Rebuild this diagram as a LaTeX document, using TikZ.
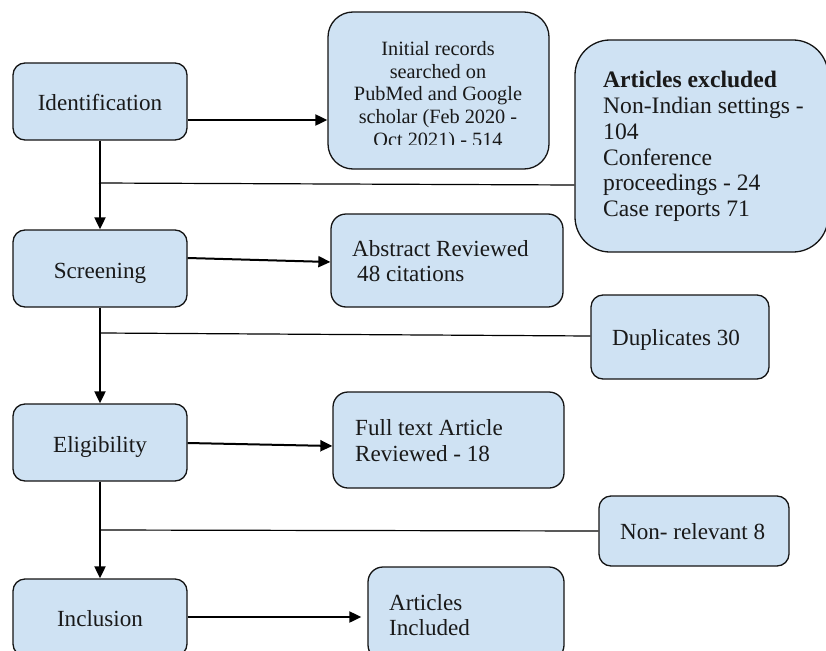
\documentclass[tikz,border=0pt]{standalone}
\usepackage{fontspec}
\setmainfont{Liberation Serif}
\usetikzlibrary{arrows.meta,calc}
\definecolor{boxfill}{RGB}{207,226,243}
\definecolor{boxline}{RGB}{20,20,20}
\begin{document}
\begin{tikzpicture}[x=1pt,y=-1pt,
  box/.style={draw=boxline, line width=1.3pt, fill=boxfill, rounded corners=12pt, inner sep=0pt},
  lbl/.style={inner sep=0pt, anchor=base, text=black!90, font=\fontsize{23.1}{25}\selectfont},
  lblw/.style={lbl, anchor=base west},
  small/.style={font=\fontsize{20.3}{22}\selectfont},
  exfont/.style={font=\fontsize{23.6}{25}\selectfont},
  arr/.style={line width=2pt, -{Triangle[length=12pt,width=11pt]}},
  branch/.style={line width=1.2pt}]
\useasboundingbox (0,0) rectangle (826,650);
\clip (0,0) rectangle (826,650);

% boxes
\node[box, minimum width=174pt, minimum height=77pt] (ident) at (100,101.5) {};
\node[box, minimum width=221pt, minimum height=157pt, rounded corners=25pt] (init) at (438.5,90.5) {};
\node[box, minimum width=253pt, minimum height=212pt, rounded corners=35pt] (excl) at (701.5,146) {};
\node[box, minimum width=174pt, minimum height=77pt] (screen) at (100,268.5) {};
\node[box, minimum width=232pt, minimum height=93pt, rounded corners=15pt] (abs) at (447,260.5) {};
\node[box, minimum width=178pt, minimum height=84pt] (dup) at (680,337) {};
\node[box, minimum width=174pt, minimum height=77pt] (elig) at (100,442.5) {};
\node[box, minimum width=231pt, minimum height=96pt, rounded corners=15pt] (full) at (448.5,440) {};
\node[box, minimum width=190pt, minimum height=70pt] (nonrel) at (694,531) {};
\node[box, minimum width=174pt, minimum height=77pt] (incl) at (100,617.5) {};
\node[box, minimum width=196pt, minimum height=93pt, rounded corners=15pt] (artinc) at (466,613.5) {};

% labels
\node[lbl] (tident) at (100,110.7) {Identification};
\node[lbl] (tscreen) at (100,278) {Screening};
\node[lbl] (telig) at (100,452.5) {Eligibility};
\node[lbl] (tincl) at (100,626.5) {Inclusion};

\begin{scope}
\clip (328,12) rectangle (549,144);
\node[lbl, small] (ti1) at (438,55.5) {Initial records};
\node[lbl, small] (ti2) at (438,78.2) {searched on};
\node[lbl, small] (ti3) at (438,100.9) {PubMed and Google};
\node[lbl, small] (ti4) at (438,123.6) {scholar (Feb 2020 -};
\node[lbl, small] (ti5) at (438,146.3) {Oct 2021) - 514};
\end{scope}

\node[lblw, font=\fontsize{23.6}{25}\selectfont\bfseries] (te1) at (603,88) {Articles excluded};
\node[lblw, exfont] (te2) at (603,113.7) {Non-Indian settings -};
\node[lblw, exfont] (te3) at (603,139.4) {104};
\node[lblw, exfont] (te4) at (603,165.1) {Conference};
\node[lblw, exfont] (te5) at (603,190.8) {proceedings - 24};
\node[lblw, exfont] (te6) at (603,216.5) {Case reports 71};

\node[lblw] (ta1) at (352,256.7) {Abstract Reviewed};
\node[lblw] (ta2) at (357,281.7) {48 citations};

\node[lblw] (td) at (612,345.7) {Duplicates 30};

\node[lblw] (tf1) at (355,435) {Full text Article};
\node[lblw] (tf2) at (355,461) {Reviewed - 18};

\node[lblw] (tn) at (620,539.3) {Non- relevant 8};

\node[lblw] (tai1) at (389,610) {Articles};
\node[lblw] (tai2) at (389,635) {Included};

% branch points
\coordinate (b1) at (99,183);
\coordinate (b2) at (101,333);
\coordinate (b3) at (100,530);

% connectors
\draw[arr] (ident.east |- 0,120) -- (init.west |- 0,120);
\draw[arr] (screen.east |- 0,258) -- (abs.west |- 0,262);
\draw[arr] (elig.east |- 0,443) -- (full.west |- 0,446);
\draw[arr, shorten >=6pt] (incl.east |- 0,617) -- (artinc.west |- 0,617);

\draw[arr] (ident.south) -- (screen.north);
\draw[arr] (screen.south) -- (elig.north);
\draw[arr] (elig.south) -- (incl.north);

\draw[branch] (b1) -- (excl.west |- 0,185);
\draw[branch] (b2) -- (dup.west |- 0,336);
\draw[branch] (b3) -- (nonrel.west |- 0,531);
\end{tikzpicture}
\end{document}
